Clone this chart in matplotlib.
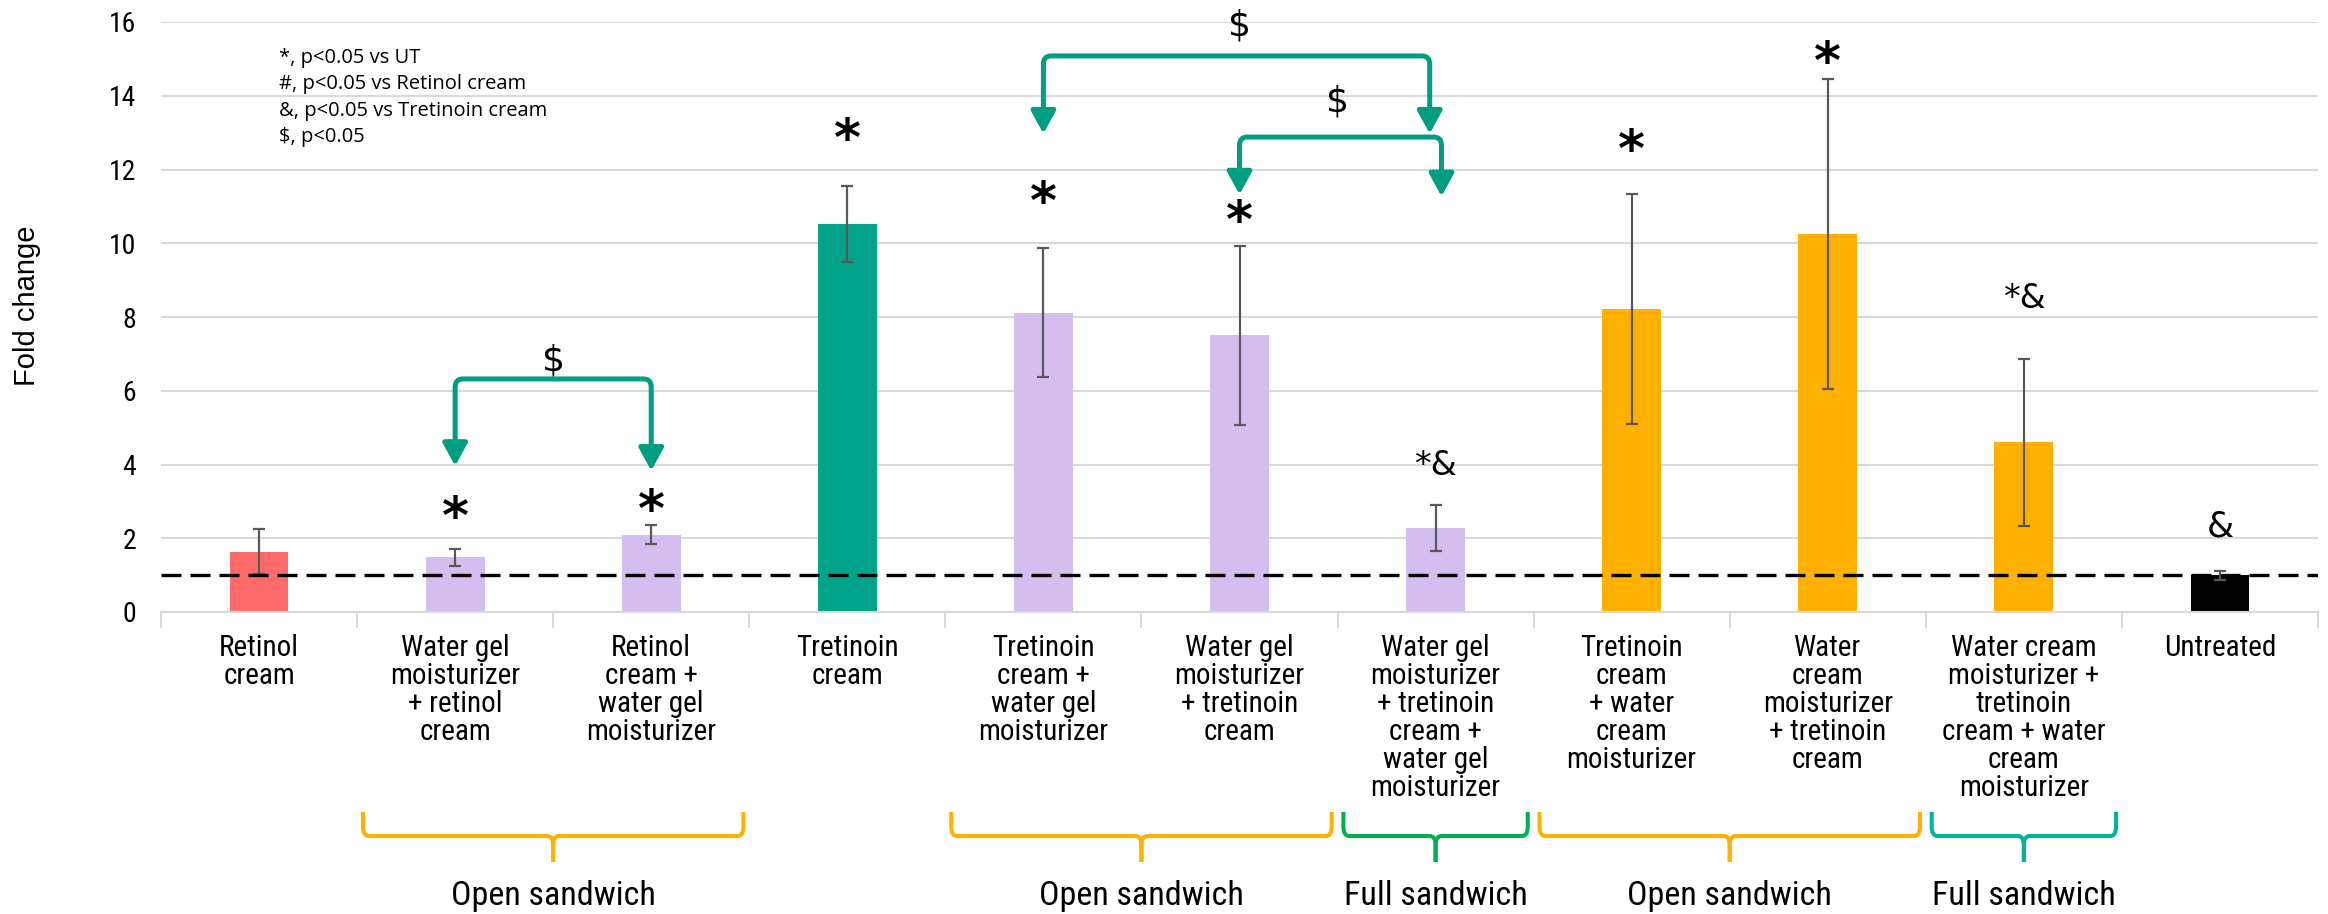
import numpy as np
import matplotlib
matplotlib.use('Agg')
import matplotlib.pyplot as plt
import matplotlib.transforms as mtransforms
from matplotlib.path import Path
from matplotlib.patches import PathPatch
from matplotlib import font_manager

# ---- data ----
categories = ['Retinol\ncream',
              'Water gel\nmoisturizer\n+ retinol\ncream',
              'Retinol\ncream +\nwater gel\nmoisturizer',
              'Tretinoin\ncream',
              'Tretinoin\ncream +\nwater gel\nmoisturizer',
              'Water gel\nmoisturizer\n+ tretinoin\ncream',
              'Water gel\nmoisturizer\n+ tretinoin\ncream +\nwater gel\nmoisturizer',
              'Tretinoin\ncream\n+ water\ncream\nmoisturizer',
              'Water\ncream\nmoisturizer\n+ tretinoin\ncream',
              'Water cream\nmoisturizer +\ntretinoin\ncream + water\ncream\nmoisturizer',
              'Untreated']
fold_change = [1.63, 1.48, 2.10, 10.53, 8.12, 7.50, 2.28, 8.22, 10.25, 4.60, 1.00]
errors = [0.61, 0.22, 0.25, 1.03, 1.76, 2.43, 0.62, 3.12, 4.20, 2.27, 0.12]
bar_colors = ['#FF6B6B', '#D4BEF0', '#D4BEF0', '#00A48A', '#D4BEF0', '#D4BEF0',
              '#D4BEF0', '#FFB000', '#FFB000', '#FFB000', '#000000']

sig_labels = ['', '*', '*', '*', '*', '*', '*&', '*', '*', '*&', '&']
sig_y = [0, 2.85, 3.05, 13.1, 11.4, 10.9, 4.07, 12.8, 15.2, 8.6, 2.42]

legend_lines = ['*, p<0.05 vs UT', '#, p<0.05 vs Retinol cream',
                '&, p<0.05 vs Tretinoin cream', '$, p<0.05']

# $ comparisons between bars
comp_left = [1, 4, 5]
comp_right = [2, 6, 6]
comp_height = [6.32, 15.08, 12.88]
comp_tip_left = [3.96, 12.97, 11.32]
comp_tip_right = [3.83, 12.97, 11.27]
comp_label_y = [6.92, 16.0, 13.93]

# groups under the x axis
group_names = ['Open sandwich', 'Open sandwich', 'Full sandwich', 'Open sandwich', 'Full sandwich']
group_first = [1, 4, 6, 7, 9]
group_last = [2, 5, 6, 8, 9]
group_colors = ['#FFB000', '#FFB000', '#00B050', '#FFB000', '#00B39B']

# ---- fonts ----
names = {f.name for f in font_manager.fontManager.ttflist}
narrow = 'DejaVu Sans'
for n in ['Roboto Condensed', 'Liberation Sans Narrow', 'Open Sans Condensed']:
    if n in names:
        narrow = n
        break
stretch = 'normal' if narrow != 'DejaVu Sans' else 'condensed'

fig = plt.figure(figsize=(23.28, 9.14), dpi=100)
ax = fig.add_axes([161 / 2328, 1 - 612 / 914, (2318 - 161) / 2328, (612 - 22) / 914])

x = np.arange(len(categories))
ax.bar(x, fold_change, width=0.3, color=bar_colors, zorder=2)
ax.errorbar(x, fold_change, yerr=errors, fmt='none', ecolor='#595959',
            elinewidth=1.6, capsize=4.5, capthick=1.6, zorder=3)
ax.axhline(1, color='black', lw=2.4, dashes=(6, 2.7), zorder=4)

ax.set_xlim(-0.5, len(categories) - 0.5)
ax.set_ylim(0, 16)
ax.set_yticks(range(0, 17, 2))
ax.yaxis.grid(True, color='#D9D9D9', lw=1.5)
ax.set_axisbelow(True)
for s in ['top', 'right', 'left']:
    ax.spines[s].set_visible(False)
ax.spines['bottom'].set_color('#D9D9D9')
ax.spines['bottom'].set_linewidth(1.5)

ax.tick_params(axis='y', length=0, pad=18)
for lab in ax.get_yticklabels():
    lab.set_family(narrow)
    lab.set_stretch(stretch)
    lab.set_fontsize(20)

ax.set_xticks(x)
ax.set_xticklabels(categories, fontsize=21, family=narrow, stretch=stretch, linespacing=1.0)
ax.set_xticks(np.arange(-0.5, len(categories)), minor=True)
ax.tick_params(axis='x', which='major', length=0, pad=16)
ax.tick_params(axis='x', which='minor', length=11.5, width=1.5, color='#D9D9D9')

# significance marks
for i, lab in enumerate(sig_labels):
    if lab == '':
        continue
    if lab == '*':
        ax.annotate(lab, (x[i], sig_y[i]), xytext=(0, -5), textcoords='offset points',
                    ha='center', va='center_baseline', fontsize=37, fontweight='bold',
                    family='DejaVu Sans')
    else:
        ax.annotate(lab, (x[i], sig_y[i]), ha='center', va='center_baseline',
                    fontsize=25 if lab == '&' else 24, family='DejaVu Sans')

# legend-like note
note_tf = mtransforms.blended_transform_factory(ax.transAxes, ax.transData)
for k, line in enumerate(legend_lines):
    ax.text(0.0547, 15.1 - 0.72 * k, line, transform=note_tf,
            ha='left', va='center_baseline', fontsize=14.5, family='Open Sans')

# comparison brackets
teal = '#009E80'
rx, ry, head = 0.04, 0.22, 0.55
shift_right = [0.0, -0.03, 0.03]
for k in range(len(comp_left)):
    xl = comp_left[k]
    xr = comp_right[k] + shift_right[k]
    yh = comp_height[k]
    tl = comp_tip_left[k]
    tr = comp_tip_right[k]
    verts = [(xl, tl + head), (xl, yh - ry), (xl, yh), (xl + rx, yh),
             (xr - rx, yh), (xr, yh), (xr, yh - ry), (xr, tr + head)]
    codes = [Path.MOVETO, Path.LINETO, Path.CURVE3, Path.CURVE3,
             Path.LINETO, Path.CURVE3, Path.CURVE3, Path.LINETO]
    ax.add_patch(PathPatch(Path(verts, codes), fill=False, edgecolor=teal, lw=3.6,
                           capstyle='butt', zorder=5, clip_on=False))
    for xa, ta in [(xl, tl), (xr, tr)]:
        ax.annotate('', xy=(xa, ta), xytext=(xa, ta + head),
                    arrowprops=dict(arrowstyle='-|>,head_length=0.55,head_width=0.3',
                                    color=teal, lw=3.6, mutation_scale=25,
                                    shrinkA=0, shrinkB=0), zorder=5)
    ax.text((comp_left[k] + comp_right[k]) / 2, comp_label_y[k], '$', ha='center',
            va='center_baseline', fontsize=26, family='DejaVu Sans', clip_on=False)

# group braces below axis
bt = mtransforms.blended_transform_factory(ax.transData, fig.transFigure)
y_top, y_h, y_tip = 1 - 812 / 914, 1 - 836 / 914, 1 - 862 / 914
bx, by = 0.03, 0.01
for k in range(len(group_names)):
    x0 = group_first[k] - 0.47
    x1 = group_last[k] + 0.47
    xc = (group_first[k] + group_last[k]) / 2
    for xe, sgn in [(x0, 1), (x1, -1)]:
        verts = [(xe, y_top), (xe, y_h + by), (xe, y_h), (xe + sgn * bx, y_h),
                 (xc - sgn * bx, y_h), (xc, y_h), (xc, y_h - by), (xc, y_tip)]
        codes = [Path.MOVETO, Path.LINETO, Path.CURVE3, Path.CURVE3,
                 Path.LINETO, Path.CURVE3, Path.CURVE3, Path.LINETO]
        fig.add_artist(PathPatch(Path(verts, codes), fill=False, edgecolor=group_colors[k],
                                 lw=2.9, transform=bt))
    fig.text(xc, 1 - 896 / 914, group_names[k], transform=bt, ha='center', va='center',
             fontsize=24.5, family=narrow, stretch=stretch)

fig.text(27 / 2328, 0.665, 'Fold change', rotation=90, ha='center', va='center',
         fontsize=21, family='Liberation Sans')

fig.savefig('out.png', dpi=100)
